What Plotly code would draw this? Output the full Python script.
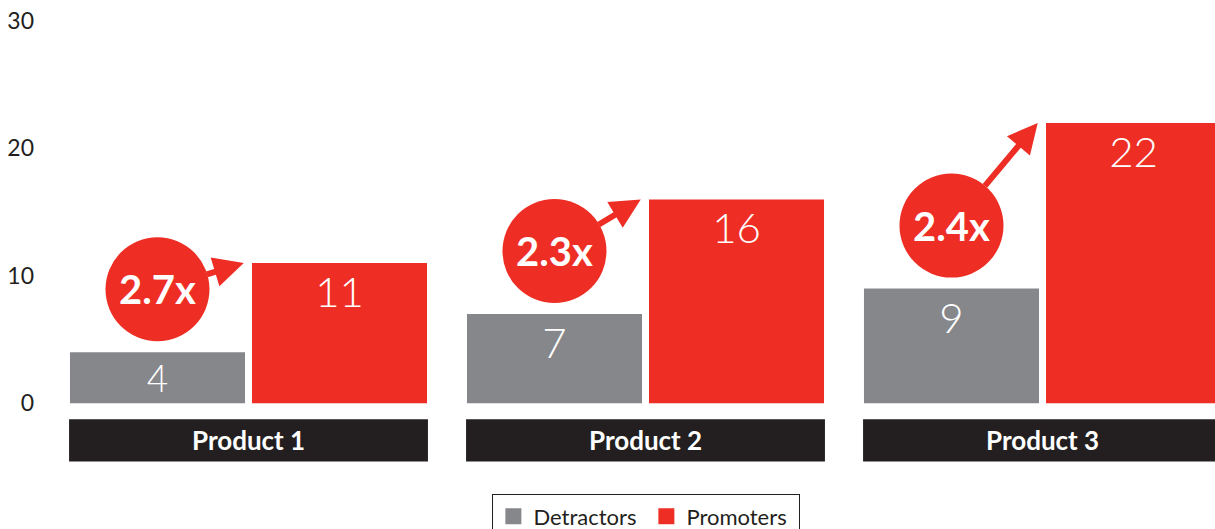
import plotly.graph_objects as go

# ---- data ----
categories = ["Product 1", "Product 2", "Product 3"]
detractors = [4, 7, 9]
promoters = [11, 16, 22]
multipliers = ["2.7x", "2.3x", "2.4x"]
y_ticks = [0, 10, 20, 30]

# ---- style ----
GRAY = "#86878b"
RED = "#ee2e24"
DARK = "#231f20"
FONT = "Lato"

W, H = 1215, 529
ML, MR, MT, MB = 45, 0, 15, 62
X_RANGE = [-0.5126, 2.4345]
Y_RANGE = [-5, 30.47]
px_x = (W - ML - MR) / (X_RANGE[1] - X_RANGE[0])
px_y = (H - MT - MB) / (Y_RANGE[1] - Y_RANGE[0])

BARGAP = 0.083
GROUPGAP = 0.0385
slot = (1 - BARGAP) / 2          # width of each bar slot in x units

xs = list(range(len(categories)))

fig = go.Figure()
fig.add_trace(go.Bar(
    x=xs, y=detractors, name="Detractors", marker=dict(color=GRAY, line=dict(width=0)),
    text=[str(v) for v in detractors], textposition="inside", insidetextanchor="end",
    textangle=0,
    textfont=dict(family=FONT, size=[38, 42, 42], color="white", weight=300),
    showlegend=False, hoverinfo="skip", cliponaxis=True,
))
fig.add_trace(go.Bar(
    x=xs, y=promoters, name="Promoters", marker=dict(color=RED, line=dict(width=0)),
    text=[str(v) for v in promoters], textposition="inside", insidetextanchor="end",
    textangle=0,
    textfont=dict(family=FONT, size=42, color="white", weight=300),
    showlegend=False, hoverinfo="skip", cliponaxis=True,
))
# legend entries
for name, col in [("Detractors", GRAY), ("Promoters", RED)]:
    fig.add_trace(go.Scatter(x=[None], y=[None], mode="markers", name=name,
                             marker=dict(symbol="square", size=18, color=col)))

shapes = []
annotations = []
r_px = 52
rx, ry = r_px / px_x, r_px / px_y
gap_y = 11 / px_y
for i, cat in enumerate(categories):
    # category label box
    shapes.append(dict(type="rect", xref="x", yref="y",
                       x0=i - 0.452, x1=i + 0.452, y0=-4.57, y1=-1.26,
                       fillcolor=DARK, line=dict(width=0), layer="above"))
    annotations.append(dict(x=i, y=-2.9, xref="x", yref="y", text=f"<b>{cat}</b>",
                            showarrow=False,
                            font=dict(family=FONT, size=26, color="white", weight=900)))
    # bubble
    cx = i - slot / 2
    cy = detractors[i] + gap_y + ry
    shapes.append(dict(type="circle", xref="x", yref="y",
                       x0=cx - rx, x1=cx + rx, y0=cy - ry, y1=cy + ry,
                       fillcolor=RED, line=dict(width=0), layer="above"))
    annotations.append(dict(x=cx, y=cy, xref="x", yref="y", text=f"<b>{multipliers[i]}</b>",
                            showarrow=False,
                            font=dict(family=FONT, size=40, color="white", weight=900)))
    # arrow from bubble edge to top-left corner of promoter bar
    annotations.append(dict(x=i - 0.012, y=promoters[i], xref="x", yref="y",
                            ax=cx, ay=cy, axref="x", ayref="y", text="",
                            showarrow=True, arrowhead=2, arrowsize=1, arrowwidth=6,
                            arrowcolor=RED, startstandoff=r_px - 2, standoff=0))

fig.update_layout(
    width=W, height=H,
    margin=dict(l=ML, r=MR, t=MT, b=MB, pad=0, autoexpand=False),
    paper_bgcolor="white", plot_bgcolor="white",
    barmode="group", bargap=BARGAP, bargroupgap=GROUPGAP,
    xaxis=dict(range=X_RANGE, visible=False, fixedrange=True, automargin=False),
    yaxis=dict(range=Y_RANGE, tickvals=y_ticks, ticktext=[str(v) for v in y_ticks],
               showgrid=False, zeroline=False, showline=False, ticks="",
               automargin=False, ticklabelstandoff=10, ticklabeloverflow="allow",
               tickfont=dict(family=FONT, size=23, color=DARK), fixedrange=True),
    shapes=shapes, annotations=annotations,
    legend=dict(orientation="h", x=0.514, xanchor="center", y=-0.0607, yanchor="top",
                bordercolor=DARK, borderwidth=1, bgcolor="white", entrywidth=108,
                font=dict(family=FONT, size=22, color=DARK), itemsizing="trace"),
    uniformtext=dict(mode=False),
)

fig.write_html(
    "out.html",
    config={"displayModeBar": False, "staticPlot": True},
    post_script="document.body.style.margin='0px';document.body.style.overflow='hidden';"
                "document.documentElement.style.overflow='hidden';",
)
